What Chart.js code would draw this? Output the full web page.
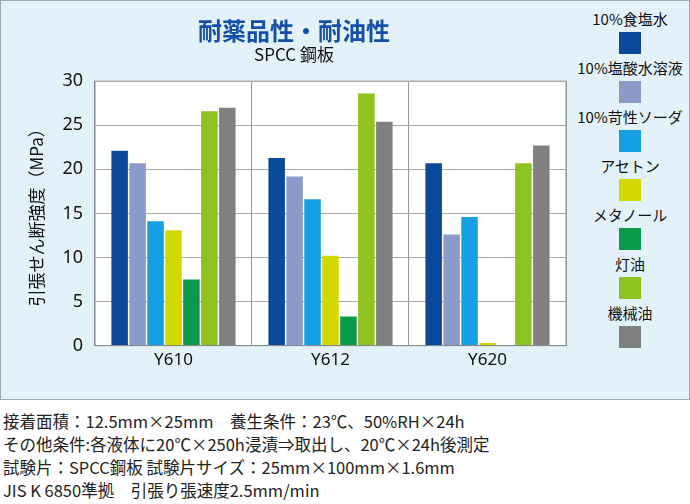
<!DOCTYPE html>
<html><head><meta charset="utf-8">
<script src="https://cdn.jsdelivr.net/npm/chart.js@4"></script>
<style>
body{margin:0;width:690px;height:504px;background:#fff;font-family:"Noto Sans CJK JP",sans-serif;position:relative;overflow:hidden}
#panel{position:absolute;left:0;top:0;width:688px;height:398px;background:#e3f1fa;border:1px solid #9ab}
#wrap{position:absolute;left:0;top:0;width:572px;height:398px}
#legend{position:absolute;left:572px;top:8px;width:116px}
.li{height:49px;text-align:center;font-size:15px;color:#111}
.li span{display:block;width:22px;height:22px;margin:3px auto 0}
#notes{position:absolute;left:3px;top:410px;font-size:16.5px;line-height:23px;color:#222}
</style></head><body>
<div id="panel"></div>
<div id="wrap"><canvas id="c"></canvas></div>
<div id="legend"></div>
<div id="notes">接着面積：12.5mm×25mm　養生条件：23℃、50%RH×24h<br>その他条件:各液体に20℃×250h浸漬⇒取出し、20℃×24h後測定<br>試験片：SPCC鋼板 試験片サイズ：25mm×100mm×1.6mm<br>JIS K 6850準拠　引張り張速度2.5mm/min</div>
<script>
const categories = ["Y610", "Y612", "Y620"];
const seriesNames = ["10%食塩水", "10%塩酸水溶液", "10%苛性ソーダ", "アセトン", "メタノール", "灯油", "機械油"];
const seriesColors = ["#0b4a9b", "#8c9acb", "#14a0e2", "#d3d800", "#0b9a4b", "#8dc21f", "#808080"];
const saltWater = [22.1, 21.3, 20.7];
const hclSolution = [20.7, 19.2, 12.6];
const causticSoda = [14.1, 16.6, 14.6];
const acetone = [13.1, 10.2, 0.3];
const methanol = [7.5, 3.3, 0];
const kerosene = [26.6, 28.6, 20.7];
const machineOil = [27.0, 25.4, 22.7];
const values = [saltWater, hclSolution, causticSoda, acetone, methanol, kerosene, machineOil];
const yTicks = [0, 5, 10, 15, 20, 25, 30];

const legend = document.getElementById("legend");
seriesNames.forEach((n, i) => {
  const d = document.createElement("div");
  d.className = "li";
  d.innerHTML = n + '<span style="background:' + seriesColors[i] + '"></span>';
  legend.appendChild(d);
});

const plotBg = {
  id: "plotBg",
  beforeDraw(chart) {
    const { ctx, chartArea: a } = chart;
    ctx.save();
    ctx.fillStyle = "#fff";
    ctx.fillRect(a.left, a.top, a.right - a.left, a.bottom - a.top);
    ctx.strokeStyle = "#888";
    ctx.strokeRect(a.left, a.top, a.right - a.left, a.bottom - a.top);
    ctx.restore();
  },
};

new Chart(document.getElementById("c"), {
  type: "bar",
  data: {
    labels: categories,
    datasets: seriesNames.map((n, i) => ({
      label: n, data: values[i], backgroundColor: seriesColors[i],
      categoryPercentage: 0.8, barPercentage: 0.92,
    })),
  },
  options: {
    responsive: true, maintainAspectRatio: false, animation: false,
    layout: { padding: { left: 22, right: 6, top: 6, bottom: 24 } },
    scales: {
      x: {
        grid: { color: "#999", drawTicks: false, offset: true },
        border: { color: "#888" },
        ticks: { color: "#111", font: { size: 17, family: "Noto Sans" }, padding: 4 },
      },
      y: {
        min: 0, max: 30,
        afterBuildTicks: (ax) => { ax.ticks = yTicks.map((v) => ({ value: v })); },
        grid: { color: "#aaa", drawTicks: false },
        border: { color: "#888" },
        ticks: { color: "#111", font: { size: 18, family: "Noto Sans" }, padding: 12 },
        title: { display: true, text: "引張せん断強度（MPa）", color: "#111", font: { size: 17, family: "Noto Sans CJK JP" } },
      },
    },
    plugins: {
      legend: { display: false },
      tooltip: { enabled: false },
      title: { display: true, text: "耐薬品性・耐油性", color: "#1550a8", font: { size: 24, weight: "bold", family: "Noto Sans CJK JP" }, padding: { top: 10, bottom: 0 } },
      subtitle: { display: true, text: "SPCC 鋼板", color: "#111", font: { size: 17, family: "Noto Sans CJK JP" }, padding: { top: 0, bottom: 16 } },
    },
  },
  plugins: [plotBg],
});
</script>
</body></html>
